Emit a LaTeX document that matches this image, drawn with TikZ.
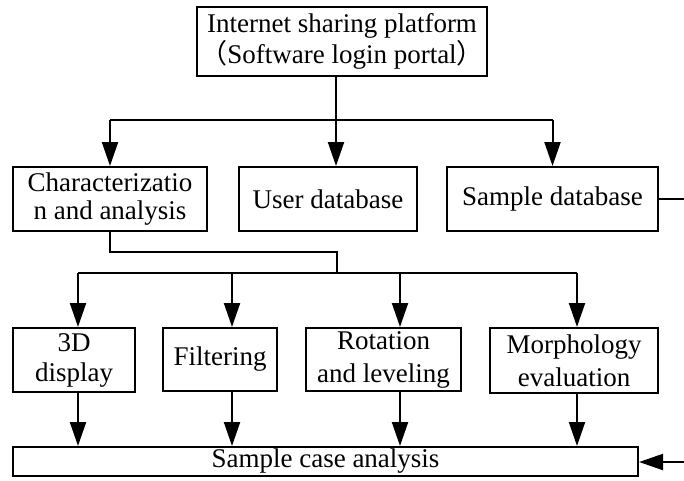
\documentclass[tikz,border=0pt]{standalone}
\usepackage{fontspec}
\setmainfont{Liberation Serif}
\newfontfamily\cjkparen{Noto Sans CJK SC}
\usetikzlibrary{arrows.meta, calc}

\begin{document}
\begin{tikzpicture}[x=1pt, y=-1pt,
    box/.style={draw, line width=2pt, inner sep=0pt, align=center, font=\fontsize{27}{31}\selectfont},
    link/.style={line width=2pt},
    arr/.style={link, -{Triangle[length=24pt, width=16pt]}}]
    \useasboundingbox (0,0) rectangle (684,480);

    % top level
    \node[box, minimum width=290pt, minimum height=69pt] (portal) at (342,41.5)
      {Internet sharing platform\\{\cjkparen （}Software login portal{\cjkparen ）}};

    % second level
    \node[box, minimum width=194pt, minimum height=64pt, font=\fontsize{27}{28}\selectfont] (charac) at (110,199)
      {Characterizatio\\n and analysis};
    \node[box, minimum width=178pt, minimum height=64pt] (userdb) at (328,199) {User database};
    \node[box, minimum width=211pt, minimum height=64pt] (sampledb) at (552.5,199) {Sample database};

    % third level
    \node[box, minimum width=122pt, minimum height=64pt, font=\fontsize{27}{30}\selectfont] (disp) at (74,360) {3D\\display};
    \node[box, minimum width=114pt, minimum height=63pt] (filter) at (220,359.5) {Filtering};
    \node[box, minimum width=155pt, minimum height=63pt, font=\fontsize{27}{33}\selectfont] (level) at (383.5,359.5) {Rotation\\and leveling};
    \node[box, minimum width=168pt, minimum height=65pt, font=\fontsize{27}{33}\selectfont] (morph) at (574,360.5) {Morphology\\evaluation};

    % bottom
    \node[box, minimum width=625pt, minimum height=29pt] (case) at (325.5,461.5) {Sample case analysis};

    % bus points
    \coordinate (topbus) at (336,120);
    \coordinate (turn) at (337,252);
    \coordinate (outA) at (684,199);
    \coordinate (outB) at (684,462);
    \foreach \n/\x in {disp/78, filter/232, level/400, morph/577}
      \coordinate (bus-\n) at (\x,273);

    \draw[link] (portal.south -| topbus) -- (topbus);
    \draw[link] (charac.north |- topbus) -- (sampledb.north |- topbus);
    \draw[arr] (charac.north |- topbus) -- (charac.north);
    \draw[arr] (topbus) -- (topbus |- userdb.north);
    \draw[arr] (sampledb.north |- topbus) -- (sampledb.north);

    \draw[link] (charac.south) |- (turn) -- (turn |- bus-disp);
    \draw[link] (bus-disp) -- (bus-morph);
    \foreach \n in {disp, filter, level, morph} {
      \draw[arr] (bus-\n) -- (bus-\n |- \n.north);
      \draw[arr] (bus-\n |- \n.south) -- (bus-\n |- case.north);
    }

    \draw[link] (sampledb.east) -- (outA);
    \draw[arr] (outB) -- (case.east |- outB);
\end{tikzpicture}
\end{document}
